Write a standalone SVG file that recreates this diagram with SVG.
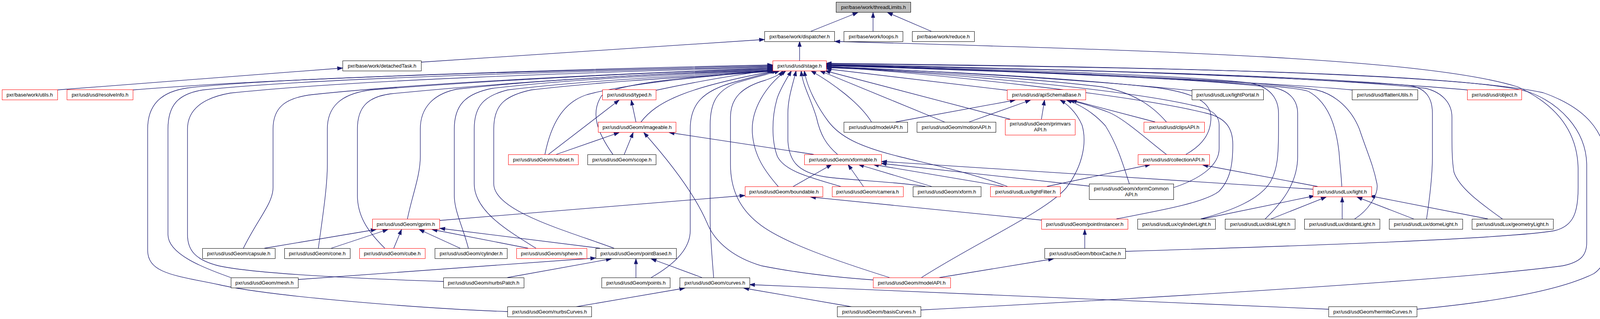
<svg xmlns="http://www.w3.org/2000/svg" width="4120" height="816" viewBox="0 0 4120 816">
<style>
.node rect{fill:#fff;stroke:#000;stroke-width:1}
.red rect{stroke:#ff0000}
.root rect{fill:#bfbfbf}
text{font-family:"Liberation Sans",Arial,sans-serif;font-size:13px;text-anchor:middle;fill:#000}
.edges path{fill:none;stroke:#191970;stroke-width:1.3;marker-end:url(#arr)}
</style>
<defs>
<marker id="arr" markerUnits="userSpaceOnUse" markerWidth="13" markerHeight="10" refX="13" refY="4.5" orient="auto" overflow="visible">
<path d="M0,0 L13,4.5 L0,9 z" fill="#191970" stroke="#191970" stroke-width="1"/>
</marker>
</defs>
<rect width="4120" height="816" fill="#fff"/>
<g id="edges" class="edges">
<path d="M2076,80 L2196,32"/>
<path d="M2235,80 L2235,32"/>
<path d="M2384,80 L2272,32"/>
<path d="M2047,155 L2047,106"/>
<path d="M1078,159 L1957,101"/>
<path d="M147,230 L877,174"/>
<path d="M2881,643 C3300,630 3850,612 3980,590 C4030,578 4040,540 4040,480 L4040,430 C4038,340 3990,270 3885,222 C3650,150 3000,130 2137,106"/>
<path d="M340,230 C700,200 1500,176 1978,166"/>
<path d="M1299,797 C1100,790 700,760 560,728 C450,705 378,700 378,640 L378,330 C378,270 410,235 480,225 C700,198 1400,182 1978,168"/>
<path d="M591,710 C520,685 430,650 430,600 L430,330 C430,270 455,240 520,230 C800,200 1400,185 1978,170"/>
<path d="M1135,720 C900,712 650,700 560,680 C500,665 480,640 480,600 L480,330 C480,280 520,250 590,238 C900,205 1500,185 1978,172"/>
<path d="M623,635 C660,560 699,520 699,480 L699,330 C699,275 730,250 800,242 C1100,210 1600,188 1978,174"/>
<path d="M815,635 C825,560 838,480 838,420 L838,330 C838,275 870,240 950,230 C1300,202 1700,184 1978,176"/>
<path d="M985,635 C950,600 915,560 915,500 L915,330 C915,275 940,248 1000,240 C1300,210 1700,186 1978,178"/>
<path d="M1043,560 C1055,500 1076,450 1076,400 L1076,330 C1076,275 1110,240 1170,228 C1450,198 1750,186 1978,180"/>
<path d="M1199,635 C1185,580 1163,540 1163,500 L1163,330 C1163,270 1190,240 1260,226 C1500,198 1800,188 1980,181"/>
<path d="M1372,635 C1300,590 1214,540 1214,470 L1214,330 C1214,270 1240,245 1300,230 C1550,200 1850,190 1983,181"/>
<path d="M1572,635 C1450,590 1264,540 1264,470 L1264,330 C1264,270 1290,245 1360,230 C1600,202 1880,192 1986,181"/>
<path d="M1395,395 C1410,320 1440,262 1503,242 C1620,210 1850,192 1980,180"/>
<path d="M1569,395 C1530,340 1510,290 1540,245 C1580,210 1820,192 1984,181"/>
<path d="M1679,231 C1800,205 1900,190 1978,178"/>
<path d="M1641,312 C1680,260 1760,222 1987,181"/>
<path d="M1667,710 C1720,680 1767,640 1767,590 L1767,330 C1767,265 1800,232 1880,210 C1930,196 1965,187 1990,181"/>
<path d="M1827,710 C1822,650 1818,600 1818,560 L1818,320 C1818,262 1835,232 1885,212 C1935,196 1975,188 1996,181"/>
<path d="M2277,710 C2150,670 2000,620 1940,570 C1890,530 1870,480 1870,420 L1870,300 C1870,250 1900,222 1960,205 C1985,196 1998,190 2004,181"/>
<path d="M1993,478 C1960,440 1930,400 1926,340 C1922,280 1960,220 2012,181"/>
<path d="M2155,478 C2080,455 2010,440 1990,400 C1975,360 1975,300 1990,250 C2000,222 2018,195 2026,181"/>
<path d="M2369,477 C2300,465 2180,462 2110,452 C2040,440 2020,410 2017,360 L2017,290 C2017,250 2030,215 2038,181"/>
<path d="M2144,395 C2115,370 2100,345 2090,300 C2075,250 2055,220 2051,181"/>
<path d="M2579,477 C2480,440 2380,420 2300,400 C2200,375 2150,350 2120,310 C2090,270 2065,220 2059,181"/>
<path d="M2231,312 C2200,262 2130,212 2076,181"/>
<path d="M2418,312 L2099,181"/>
<path d="M2586,305 L2112,181"/>
<path d="M2579,231 L2115,176"/>
<path d="M3051,232 C2800,205 2400,182 2115,170"/>
<path d="M3461,230 C3250,210 2600,182 2115,168"/>
<path d="M3756,230 C3400,198 2700,175 2115,165"/>
<path d="M2986,312 C2950,270 2900,236 2820,222 C2600,196 2300,180 2115,173"/>
<path d="M3036,395 C3080,370 3100,340 3100,300 C3100,262 3060,238 2960,224 C2700,196 2350,180 2115,172"/>
<path d="M3004,480 C3080,455 3121,420 3121,380 L3121,320 C3121,300 3110,285 3080,276 C2900,228 2400,186 2115,171"/>
<path d="M2858,560 C2960,540 3080,520 3120,490 C3150,460 3156,420 3156,370 C3156,330 3140,302 3090,290 C2900,242 2400,190 2115,170"/>
<path d="M3074,560 C3150,540 3230,510 3255,460 C3270,430 3273,400 3273,330 L3273,290 C3273,250 3250,222 3200,212 C3000,190 2500,175 2115,167"/>
<path d="M3239,560 C3280,520 3322,470 3322,400 L3322,290 C3322,255 3300,232 3260,224 C3000,195 2500,178 2115,168"/>
<path d="M3435,477 C3433,440 3430,420 3428,390 C3420,320 3400,262 3350,234 C3300,212 2600,180 2115,168"/>
<path d="M3468,560 C3500,540 3530,500 3525,470 C3515,420 3500,390 3480,330 C3460,280 3420,242 3370,230 C3200,202 2600,180 2115,167"/>
<path d="M3652,560 C3658,520 3667,450 3667,400 L3667,290 C3667,250 3650,226 3610,219 C3300,190 2600,175 2115,166"/>
<path d="M3846,560 C3790,520 3735,480 3722,440 C3717,410 3717,380 3717,330 L3717,300 C3717,262 3690,236 3650,226 C3300,190 2600,175 2115,166"/>
<path d="M2357,793 C2800,770 3700,720 4000,680 C4050,670 4062,650 4062,620 L4062,420 C4060,330 3990,262 3910,234 C3700,180 2700,170 2115,163"/>
<path d="M3627,791 C3850,770 4000,740 4080,700 C4110,680 4114,650 4114,600 L4114,430 C4114,330 4050,272 3950,237 C3700,182 2700,168 2115,162"/>
<path d="M1404,395 L1585,256"/>
<path d="M1628,312 L1616,256"/>
<path d="M1424,395 L1585,339"/>
<path d="M1598,395 L1621,339"/>
<path d="M2083,395 L1713,339"/>
<path d="M2235,716 C2150,710 2050,700 1950,680 C1880,660 1830,620 1810,570 C1780,500 1720,420 1648,339"/>
<path d="M2293,312 L2599,256"/>
<path d="M2481,312 L2638,256"/>
<path d="M2666,305 L2674,256"/>
<path d="M2957,312 L2743,256"/>
<path d="M2986,395 C2940,360 2880,305 2840,288 C2800,272 2760,262 2737,256"/>
<path d="M2891,470 C2875,420 2860,370 2830,322 C2800,288 2762,266 2730,256"/>
<path d="M2359,710 C2500,620 2680,540 2730,480 C2775,420 2782,360 2770,320 C2755,285 2730,265 2714,256"/>
<path d="M2029,478 L2129,421"/>
<path d="M2211,478 L2171,421"/>
<path d="M2385,477 L2198,421"/>
<path d="M2569,477 L2236,421"/>
<path d="M2788,476 L2256,418"/>
<path d="M3361,484 L2257,413"/>
<path d="M677,635 L963,587"/>
<path d="M848,635 L993,587"/>
<path d="M1008,635 L1028,587"/>
<path d="M1178,635 L1073,587"/>
<path d="M1352,635 L1106,587"/>
<path d="M1536,635 L1126,584"/>
<path d="M1125,564 L1907,500"/>
<path d="M763,715 L1525,660"/>
<path d="M1299,710 L1565,662"/>
<path d="M1628,710 L1628,662"/>
<path d="M1797,710 L1667,662"/>
<path d="M1473,785 L1753,737"/>
<path d="M2182,785 L1904,737"/>
<path d="M3401,791 L1919,728"/>
<path d="M2666,563 L2075,504"/>
<path d="M2680,477 L2945,421"/>
<path d="M3373,477 L3079,422"/>
<path d="M3078,560 L3365,501"/>
<path d="M3254,560 L3395,504"/>
<path d="M3436,560 L3436,504"/>
<path d="M3619,560 L3474,504"/>
<path d="M3809,560 L3507,501"/>
<path d="M2777,635 L2777,587"/>
<path d="M2405,710 L2697,662"/>
</g>
<g id="n_threadLimits" class="node root"><rect x="2140.5" y="5.5" width="191" height="26"/><text x="2236" y="23">pxr/base/work/threadLimits.h</text></g>
<g id="n_dispatcher" class="node"><rect x="1957.5" y="80.5" width="179" height="26"/><text x="2047" y="98">pxr/base/work/dispatcher.h</text></g>
<g id="n_loops" class="node"><rect x="2160.5" y="80.5" width="151" height="26"/><text x="2236" y="98">pxr/base/work/loops.h</text></g>
<g id="n_reduce" class="node"><rect x="2335.5" y="80.5" width="159" height="26"/><text x="2415" y="98">pxr/base/work/reduce.h</text></g>
<g id="n_detachedTask" class="node"><rect x="877.5" y="155.5" width="201" height="26"/><text x="978" y="173">pxr/base/work/detachedTask.h</text></g>
<g id="n_stage" class="node red"><rect x="1978.5" y="155.5" width="137" height="26"/><text x="2047" y="173">pxr/usd/usd/stage.h</text></g>
<g id="n_utils" class="node red"><rect x="5.5" y="229.5" width="142" height="26"/><text x="76" y="247">pxr/base/work/utils.h</text></g>
<g id="n_resolveInfo" class="node red"><rect x="171.5" y="229.5" width="169" height="26"/><text x="256" y="247">pxr/usd/usd/resolveInfo.h</text></g>
<g id="n_typed" class="node red"><rect x="1542.5" y="229.5" width="137" height="26"/><text x="1611" y="247">pxr/usd/usd/typed.h</text></g>
<g id="n_apiSchemaBase" class="node red"><rect x="2578.5" y="229.5" width="201" height="26"/><text x="2679" y="247">pxr/usd/usd/apiSchemaBase.h</text></g>
<g id="n_lightPortal" class="node"><rect x="3051.5" y="229.5" width="183" height="26"/><text x="3143" y="247">pxr/usd/usdLux/lightPortal.h</text></g>
<g id="n_flattenUtils" class="node"><rect x="3461.5" y="229.5" width="168" height="26"/><text x="3545" y="247">pxr/usd/usd/flattenUtils.h</text></g>
<g id="n_object" class="node red"><rect x="3756.5" y="229.5" width="139" height="26"/><text x="3826" y="247">pxr/usd/usd/object.h</text></g>
<g id="n_imageable" class="node red"><rect x="1531.5" y="312.5" width="199" height="26"/><text x="1631" y="330">pxr/usd/usdGeom/imageable.h</text></g>
<g id="n_modelAPI_usd" class="node"><rect x="2160.5" y="312.5" width="163" height="26"/><text x="2242" y="330">pxr/usd/usd/modelAPI.h</text></g>
<g id="n_motionAPI" class="node"><rect x="2347.5" y="312.5" width="202" height="26"/><text x="2448" y="330">pxr/usd/usdGeom/motionAPI.h</text></g>
<g id="n_primvarsAPI" class="node red"><rect x="2573.5" y="305.5" width="179" height="40"/><text x="2663" y="321">pxr/usd/usdGeom/primvars</text><text x="2663" y="336">API.h</text></g>
<g id="n_clipsAPI" class="node red"><rect x="2928.5" y="312.5" width="155" height="26"/><text x="3006" y="330">pxr/usd/usd/clipsAPI.h</text></g>
<g id="n_subset" class="node red"><rect x="1301.5" y="395.5" width="179" height="26"/><text x="1391" y="413">pxr/usd/usdGeom/subset.h</text></g>
<g id="n_scope" class="node"><rect x="1504.5" y="395.5" width="175" height="26"/><text x="1592" y="413">pxr/usd/usdGeom/scope.h</text></g>
<g id="n_xformable" class="node red"><rect x="2059.5" y="395.5" width="197" height="26"/><text x="2158" y="413">pxr/usd/usdGeom/xformable.h</text></g>
<g id="n_collectionAPI" class="node red"><rect x="2913.5" y="395.5" width="183" height="26"/><text x="3005" y="413">pxr/usd/usd/collectionAPI.h</text></g>
<g id="n_boundable" class="node red"><rect x="1907.5" y="477.5" width="199" height="26"/><text x="2007" y="495">pxr/usd/usdGeom/boundable.h</text></g>
<g id="n_camera" class="node red"><rect x="2130.5" y="477.5" width="182" height="26"/><text x="2221" y="495">pxr/usd/usdGeom/camera.h</text></g>
<g id="n_xform" class="node"><rect x="2337.5" y="477.5" width="174" height="26"/><text x="2424" y="495">pxr/usd/usdGeom/xform.h</text></g>
<g id="n_lightFilter" class="node red"><rect x="2535.5" y="477.5" width="179" height="26"/><text x="2625" y="495">pxr/usd/usdLux/lightFilter.h</text></g>
<g id="n_xformCommonAPI" class="node"><rect x="2788.5" y="470.5" width="216" height="40"/><text x="2896" y="487">pxr/usd/usdGeom/xformCommon</text><text x="2896" y="502">API.h</text></g>
<g id="n_light" class="node red"><rect x="3361.5" y="477.5" width="150" height="26"/><text x="3436" y="495">pxr/usd/usdLux/light.h</text></g>
<g id="n_gprim" class="node red"><rect x="953.5" y="560.5" width="172" height="26"/><text x="1039" y="578">pxr/usd/usdGeom/gprim.h</text></g>
<g id="n_pointInstancer" class="node red"><rect x="2666.5" y="560.5" width="221" height="26"/><text x="2777" y="578">pxr/usd/usdGeom/pointInstancer.h</text></g>
<g id="n_cylinderLight" class="node"><rect x="2912.5" y="560.5" width="199" height="26"/><text x="3012" y="578">pxr/usd/usdLux/cylinderLight.h</text></g>
<g id="n_diskLight" class="node"><rect x="3136.5" y="560.5" width="179" height="26"/><text x="3226" y="578">pxr/usd/usdLux/diskLight.h</text></g>
<g id="n_distantLight" class="node"><rect x="3339.5" y="560.5" width="193" height="26"/><text x="3436" y="578">pxr/usd/usdLux/distantLight.h</text></g>
<g id="n_domeLight" class="node"><rect x="3556.5" y="560.5" width="188" height="26"/><text x="3650" y="578">pxr/usd/usdLux/domeLight.h</text></g>
<g id="n_geometryLight" class="node"><rect x="3768.5" y="560.5" width="208" height="26"/><text x="3872" y="578">pxr/usd/usdLux/geometryLight.h</text></g>
<g id="n_capsule" class="node"><rect x="518.5" y="635.5" width="186" height="26"/><text x="611" y="653">pxr/usd/usdGeom/capsule.h</text></g>
<g id="n_cone" class="node"><rect x="728.5" y="635.5" width="168" height="26"/><text x="812" y="653">pxr/usd/usdGeom/cone.h</text></g>
<g id="n_cube" class="node red"><rect x="920.5" y="635.5" width="168" height="26"/><text x="1004" y="653">pxr/usd/usdGeom/cube.h</text></g>
<g id="n_cylinder" class="node"><rect x="1113.5" y="635.5" width="185" height="26"/><text x="1206" y="653">pxr/usd/usdGeom/cylinder.h</text></g>
<g id="n_sphere" class="node red"><rect x="1322.5" y="635.5" width="180" height="26"/><text x="1412" y="653">pxr/usd/usdGeom/sphere.h</text></g>
<g id="n_pointBased" class="node"><rect x="1525.5" y="635.5" width="206" height="26"/><text x="1628" y="653">pxr/usd/usdGeom/pointBased.h</text></g>
<g id="n_bboxCache" class="node"><rect x="2674.5" y="635.5" width="207" height="26"/><text x="2778" y="653">pxr/usd/usdGeom/bboxCache.h</text></g>
<g id="n_mesh" class="node"><rect x="591.5" y="710.5" width="172" height="26"/><text x="677" y="728">pxr/usd/usdGeom/mesh.h</text></g>
<g id="n_nurbsPatch" class="node"><rect x="1135.5" y="710.5" width="206" height="26"/><text x="1238" y="728">pxr/usd/usdGeom/nurbsPatch.h</text></g>
<g id="n_points" class="node"><rect x="1540.5" y="710.5" width="175" height="26"/><text x="1628" y="728">pxr/usd/usdGeom/points.h</text></g>
<g id="n_curves" class="node"><rect x="1740.5" y="710.5" width="179" height="26"/><text x="1830" y="728">pxr/usd/usdGeom/curves.h</text></g>
<g id="n_modelAPI_geom" class="node red"><rect x="2235.5" y="710.5" width="198" height="26"/><text x="2334" y="728">pxr/usd/usdGeom/modelAPI.h</text></g>
<g id="n_nurbsCurves" class="node"><rect x="1299.5" y="784.5" width="215" height="26"/><text x="1407" y="802">pxr/usd/usdGeom/nurbsCurves.h</text></g>
<g id="n_basisCurves" class="node"><rect x="2143.5" y="784.5" width="214" height="26"/><text x="2250" y="802">pxr/usd/usdGeom/basisCurves.h</text></g>
<g id="n_hermiteCurves" class="node"><rect x="3401.5" y="784.5" width="226" height="26"/><text x="3514" y="802">pxr/usd/usdGeom/hermiteCurves.h</text></g>
</svg>
